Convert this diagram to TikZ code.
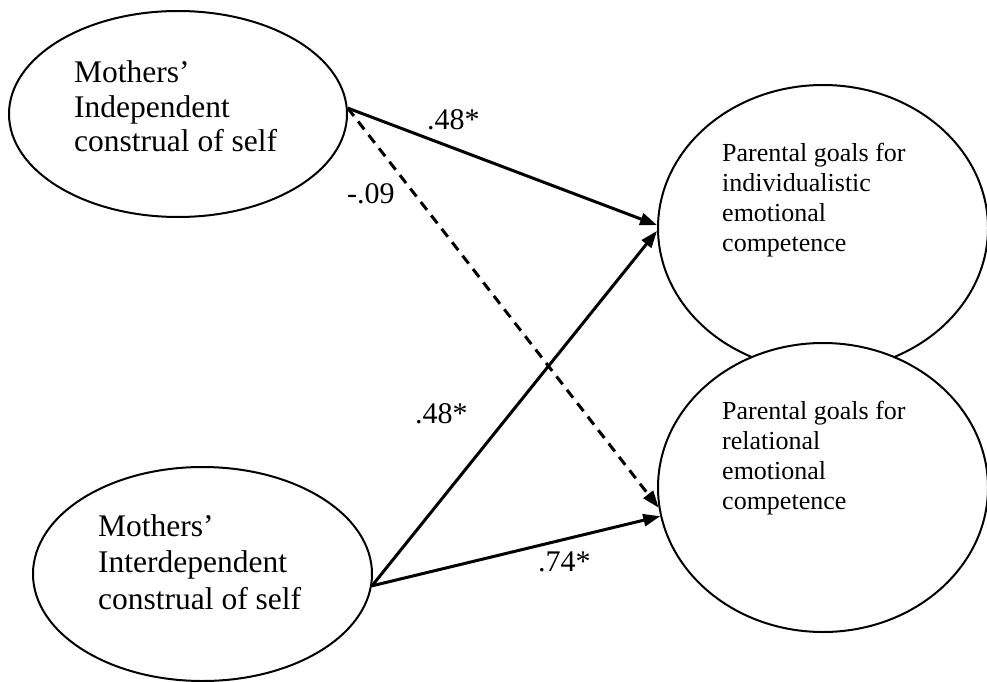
\documentclass[tikz,border=0pt]{standalone}
\usepackage{fontspec}
\setmainfont{Liberation Serif}
\usetikzlibrary{shapes.geometric,arrows.meta}
\tikzset{
  oval/.style={ellipse, draw=black, line width=2pt, fill=white, inner sep=0pt},
  bigtxt/.style={anchor=base west, inner sep=0pt, font=\fontsize{31.5}{35.5}\selectfont},
  smalltxt/.style={anchor=base west, inner sep=0pt, font=\fontsize{26}{30.3}\selectfont},
  coef/.style={anchor=base west, inner sep=0pt, font=\fontsize{30}{34}\selectfont},
  path/.style={line width=3pt, -{Triangle[length=17pt,width=12pt]}},
  dpath/.style={path, dash pattern=on 10pt off 7pt}
}
\begin{document}
\begin{tikzpicture}[x=1pt,y=-1pt]
\useasboundingbox (0,0) rectangle (987,682);
% ellipses
\node[oval, minimum width=338pt, minimum height=206pt] (e1) at (178,114) {};
\node[oval, minimum width=339pt, minimum height=214pt] (e2) at (202.5,574) {};
\node[oval, minimum width=330pt, minimum height=286pt] (e3) at (823,228) {};
\node[oval, minimum width=330pt, minimum height=289pt] (e4) at (823,487.5) {};
% texts
\node[bigtxt] (t1) at (74,83) {\vtop{\baselineskip=34.5pt\hbox{Mothers’}\hbox{Independent}\hbox{construal of self}}};
\node[bigtxt] (t2) at (98,536) {\vtop{\baselineskip=36.5pt\hbox{Mothers’}\hbox{Interdependent}\hbox{construal of self}}};
\node[smalltxt] (t3) at (722,161) {\vtop{\baselineskip=30.3pt\hbox{Parental goals for}\hbox{individualistic}\hbox{emotional}\hbox{competence}}};
\node[smalltxt] (t4) at (722,419) {\vtop{\baselineskip=30.3pt\hbox{Parental goals for}\hbox{relational}\hbox{emotional}\hbox{competence}}};
% connectors
\draw[path] (e1.2) -- (e3.179);
\draw[dpath] (e1.2) -- (e4.187);
\draw[path] (e2.-4) -- (e3.181);
\draw[path] (e2.-4) -- (e4.190);
% coefficients
\node[coef] (c1) at (427,129) {.48*};
\node[coef] (c2) at (347,203) {-.09};
\node[coef] (c3) at (415,423) {.48*};
\node[coef] (c4) at (538,571) {.74*};
\end{tikzpicture}
\end{document}
